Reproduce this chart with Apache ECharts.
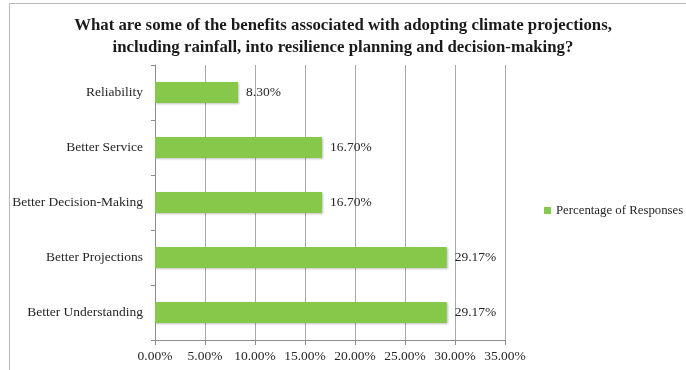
<!DOCTYPE html>
<html>
<head>
<meta charset="utf-8">
<script src="https://cdn.jsdelivr.net/npm/echarts@6/dist/echarts.min.js"></script>
<style>
  html, body { margin: 0; padding: 0; background: #fff; }
  #frame { position: absolute; left: 9px; top: 3px; width: 690px; height: 380px; border: 1px solid #b9b9b9; box-sizing: border-box; }
  #chart { position: absolute; left: 0; top: 0; width: 686px; height: 370px; }
</style>
</head>
<body>
<div id="frame"></div>
<div id="chart"></div>
<script>
// Survey categories, listed bottom to top as drawn on the category axis
const categories = ['Better Understanding', 'Better Projections', 'Better Decision-Making', 'Better Service', 'Reliability'];
const percentages = [29.17, 29.17, 16.70, 16.70, 8.30];
const seriesName = 'Percentage of Responses';
const titleText = 'What are some of the benefits associated with adopting climate projections,\nincluding rainfall, into resilience planning and decision-making?';

const FONT = 'Liberation Serif';
const chart = echarts.init(document.getElementById('chart'), null, { renderer: 'canvas' });
chart.setOption({
  animation: false,
  textStyle: { fontFamily: FONT },
  title: {
    text: titleText,
    left: 'center',
    top: 10,
    textStyle: { fontFamily: FONT, fontSize: 16.8, fontWeight: 'bold', color: '#1a1a1a', lineHeight: 22 }
  },
  legend: {
    data: [seriesName],
    left: 544,
    top: 204,
    padding: 0,
    icon: 'rect',
    itemWidth: 7,
    itemHeight: 7,
    itemGap: 3,
    textStyle: { fontFamily: FONT, fontSize: 12.8, color: '#262626' }
  },
  grid: { left: 155, top: 65, width: 350, height: 275, containLabel: false },
  xAxis: {
    type: 'value',
    min: 0,
    max: 35,
    interval: 5,
    axisLine: { show: true, lineStyle: { color: '#8c8c8c' } },
    axisTick: { show: true, length: 5, inside: false, lineStyle: { color: '#8c8c8c' } },
    axisLabel: { formatter: v => v.toFixed(2) + '%', fontFamily: FONT, fontSize: 13.5, color: '#262626', margin: 9 },
    splitLine: { show: true, lineStyle: { color: '#a9a9a9', width: 1 } }
  },
  yAxis: {
    type: 'category',
    data: categories,
    axisLine: { show: true, lineStyle: { color: '#8c8c8c' } },
    axisTick: { show: true, length: 4, lineStyle: { color: '#8c8c8c' } },
    axisLabel: { fontFamily: FONT, fontSize: 13.5, color: '#262626', margin: 12 }
  },
  series: [{
    name: seriesName,
    type: 'bar',
    data: percentages,
    barWidth: '38%',
    itemStyle: { color: '#86c84a', shadowColor: 'rgba(0,0,0,0.25)', shadowBlur: 2, shadowOffsetX: 1, shadowOffsetY: 1 },
    label: {
      show: true,
      position: 'right',
      distance: 8,
      formatter: p => p.value.toFixed(2) + '%',
      fontFamily: FONT,
      fontSize: 13.5,
      color: '#262626'
    }
  }]
});
</script>
</body>
</html>
